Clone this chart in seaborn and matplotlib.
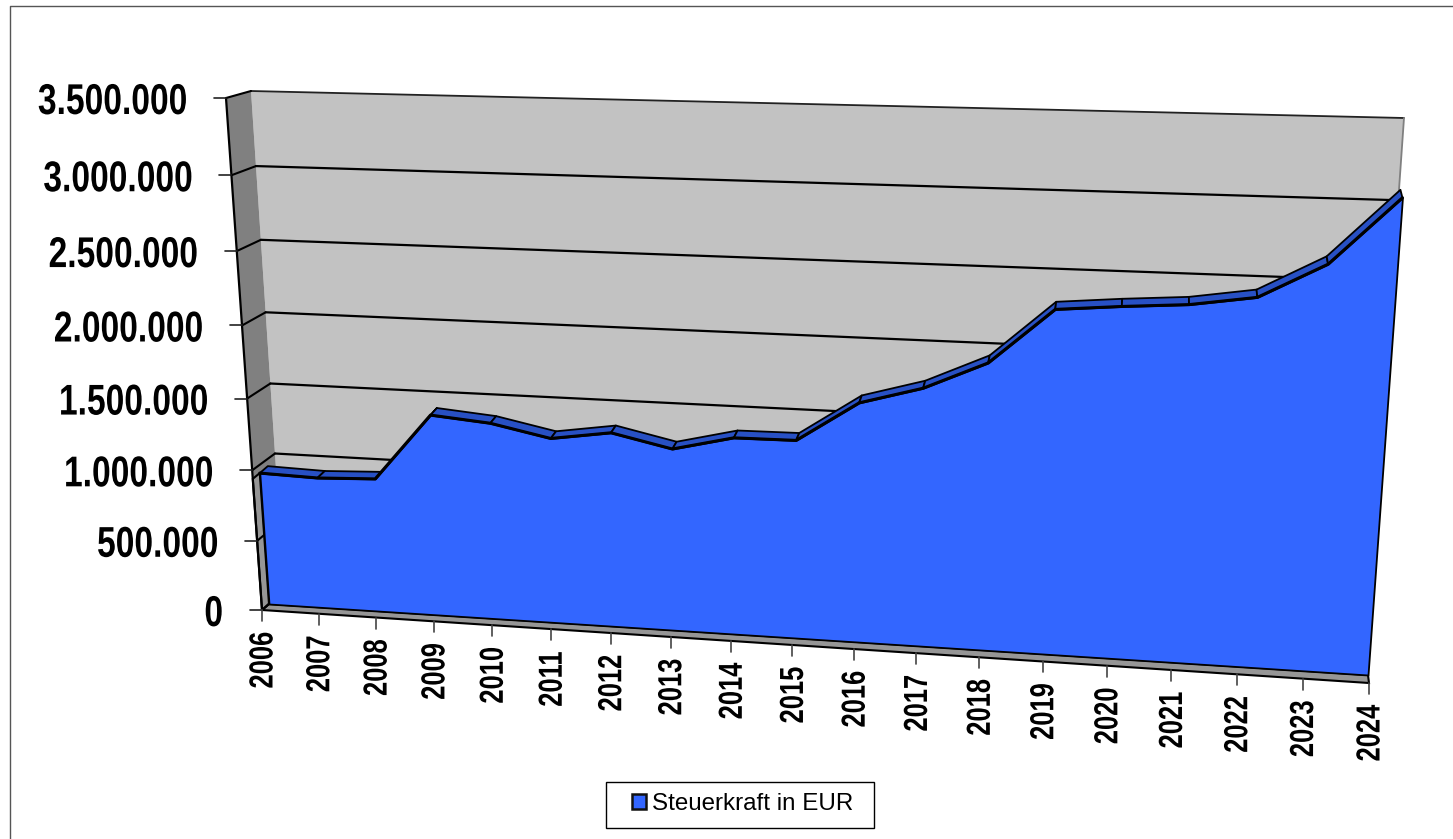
import numpy as np
import seaborn as sns
import matplotlib.pyplot as plt
from matplotlib.patches import Patch, Polygon, Rectangle
from matplotlib.patheffects import AbstractPathEffect
from matplotlib.transforms import Affine2D, Transform

years = list(range(2006, 2025))
steuerkraft = [940000, 925000, 938000, 1395000, 1356000, 1270000, 1325000, 1234000, 1325000, 1325000,
               1584000, 1692000, 1865000, 2208000, 2236000, 2257000, 2310000, 2515000, 2907000]
y_ticks = [0, 500000, 1000000, 1500000, 2000000, 2500000, 3000000, 3500000]
y_tick_labels = ["0", "500.000", "1.000.000", "1.500.000", "2.000.000", "2.500.000", "3.000.000", "3.500.000"]
legend_label = "Steuerkraft in EUR"

COL_FACE = "#3366FF"
COL_TOP = "#2850C4"
COL_WALL = "#C2C2C2"
COL_SIDE = "#808080"
COL_FLOOR = "#969696"
Y_MAX = 3500000
X_WARP = 0.05  # year spacing in the source grows slower than a true perspective


class PlaneTransform(Transform):
    # perspective map of (year, value) onto one plane of the fake 3d box
    input_dims = 2
    output_dims = 2
    is_separable = False

    def __init__(self, bl, br, tl, tr):
        super().__init__()
        src = [(0, 0), (1, 0), (0, 1), (1, 1)]
        a, b = [], []
        for (u, w), (px, py) in zip(src, [bl, br, tl, tr]):
            a.append([u, w, 1, 0, 0, 0, -u * px, -w * px])
            a.append([0, 0, 0, u, w, 1, -u * py, -w * py])
            b += [px, py]
        self.h = np.append(np.linalg.solve(np.array(a, float), np.array(b, float)), 1).reshape(3, 3)

    def transform_non_affine(self, values):
        values = np.asarray(values, float)
        u = (values[:, 0] - years[0]) / (years[-1] - years[0])
        u = u + X_WARP * u * (1 - u)
        uvw = np.column_stack([u, values[:, 1] / Y_MAX, np.ones(len(values))])
        out = uvw @ self.h.T
        return out[:, :2] / out[:, 2:]


class Squeeze(AbstractPathEffect):
    # the source labels are a horizontally squeezed Arial Bold
    def __init__(self, sx, sy, anchor):
        super().__init__()
        self.sx, self.sy, self.anchor = sx, sy, anchor

    def draw_path(self, renderer, gc, tpath, affine, rgbFace=None):
        ax0, ay0 = self.anchor
        squeeze = Affine2D().translate(-ax0, -ay0).scale(self.sx, self.sy).translate(ax0, ay0)
        renderer.draw_path(gc, tpath, affine + squeeze, rgbFace)


axis_plane = PlaneTransform((262, 610), (1369, 683), (226, 98), (1412, 98))
front_plane = PlaneTransform((269, 604), (1368, 675), (233, 93), (1410, 93))
back_plane = PlaneTransform((277, 597), (1366, 667), (241, 86), (1408, 85))
wall_plane = PlaneTransform((284, 590), (1366, 662), (251, 91), (1404, 118))

sns.set_style("white")
plt.rcParams['font.family'] = ["Liberation Sans", "DejaVu Sans"]
fig, ax = plt.subplots(figsize=(14.53, 8.39), dpi=100)
ax.set_position([0, 0, 1, 1])
ax.set_xlim(0, 1453)
ax.set_ylim(839, 0)
ax.set_autoscale_on(False)
ax.axis("off")
renderer = fig.canvas.get_renderer()


def quad(plane_a, pts_a, plane_b, pts_b, **kw):
    pts = np.vstack([plane_a.transform(np.array(pts_a, float)), plane_b.transform(np.array(pts_b, float))])
    ax.add_patch(Polygon(pts, closed=True, **kw))


first, last = years[0], years[-1]

# outer frame, only top and left are inside the image
ax.plot([9.5, 9.5, 1453], [839, 5.5, 5.5], color="#555555", lw=1.0)

# back wall
quad(wall_plane, [(first, 0), (last, 0)], wall_plane, [(last, Y_MAX), (first, Y_MAX)],
     facecolor=COL_WALL, edgecolor="none", zorder=1)
wall_top = wall_plane.transform(np.array([(first, Y_MAX), (last, Y_MAX), (last, 0)], float))
ax.plot(wall_top[:2, 0], wall_top[:2, 1], color="#222222", lw=1.3, zorder=2)
ax.plot(wall_top[1:, 0], wall_top[1:, 1], color="#808080", lw=1.3, zorder=2)

# side wall
quad(axis_plane, [(first, 0), (first, Y_MAX)], wall_plane, [(first, Y_MAX), (first, 0)],
     facecolor=COL_SIDE, edgecolor="none", zorder=1)

# gridlines on the back wall
for tick in y_ticks[1:-1]:
    sns.lineplot(x=[first, last], y=[tick, tick], color="black", lw=1.6, ax=ax,
                 transform=wall_plane + ax.transData, zorder=2)

# floor strip and the strip left of the area
quad(axis_plane, [(first, 0), (last, 0)], front_plane, [(last, 0), (first, 0)],
     facecolor=COL_FLOOR, edgecolor="black", lw=1.5, zorder=3)
quad(axis_plane, [(first, 0), (first, steuerkraft[0])], front_plane, [(first, steuerkraft[0]), (first, 0)],
     facecolor=COL_FLOOR, edgecolor="black", lw=1.5, zorder=3)

# lines joining axis and wall on the side
for tick in y_ticks:
    seg = np.vstack([axis_plane.transform(np.array([(first, tick)], float)),
                     wall_plane.transform(np.array([(first, tick)], float))])
    ax.plot(seg[:, 0], seg[:, 1], color="black", lw=1.5, zorder=4)
left_edge = axis_plane.transform(np.array([(first, 0), (first, Y_MAX)], float))
ax.plot(left_edge[:, 0], left_edge[:, 1], color="black", lw=1.6, zorder=4)

# top ribbon of the area
for i in range(len(years) - 1):
    a = (years[i], steuerkraft[i])
    b = (years[i + 1], steuerkraft[i + 1])
    quad(front_plane, [a, b], back_plane, [b, a], facecolor=COL_TOP, edgecolor="black", lw=1.3,
         joinstyle="round", zorder=5)

# front face
ax.fill_between(years, steuerkraft, 0, color=COL_FACE, edgecolor="black", lw=1.3,
                transform=front_plane + ax.transData, zorder=6)
sns.lineplot(x=years, y=steuerkraft, color="black", lw=2.2, ax=ax, estimator=None,
             transform=front_plane + ax.transData, zorder=7)

# y ticks and labels
SQUEEZE = 0.78
for tick, label in zip(y_ticks, y_tick_labels):
    px, py = axis_plane.transform(np.array([(first, tick)], float))[0]
    ax.plot([px - 12, px], [py, py], color="#222222", lw=1.2, zorder=8)
    t = ax.text(px - 39, py + 5, label, ha="center", va="center", fontsize=31, fontweight="bold", color="black")
    width = t.get_window_extent(renderer).width
    cx = px - 39 - width * SQUEEZE / 2
    t.set_x(cx)
    t.set_path_effects([Squeeze(SQUEEZE, 1, ax.transData.transform((cx, py + 5)))])

# x ticks and labels
for year in years:
    px, py = axis_plane.transform(np.array([(year, 0)], float))[0]
    ax.plot([px, px], [py, py + 11], color="#444444", lw=1.2, zorder=8)
    t = ax.text(px + 2, py + 50, str(year), ha="center", va="center", rotation=90, fontsize=24,
                fontweight="bold", color="black")
    t.set_path_effects([Squeeze(1, 0.765, ax.transData.transform((px + 2, py + 50)))])

# legend box sits wider than the legend padding allows
ax.add_patch(Rectangle((605.5, 781.5), 268, 46, facecolor="white", edgecolor="black", lw=1.0, zorder=8))
leg = ax.legend(handles=[Patch(facecolor=COL_FACE, edgecolor="#111111", lw=1.8, label=legend_label)],
                loc="center left", bbox_to_anchor=(604, 804), bbox_transform=ax.transData,
                fontsize=17.4, frameon=False, handlelength=0.6, handleheight=0.6,
                handletextpad=0.22, borderpad=0.65, labelcolor="black")
leg.set_zorder(9)

fig.savefig("out.png", dpi=100)
